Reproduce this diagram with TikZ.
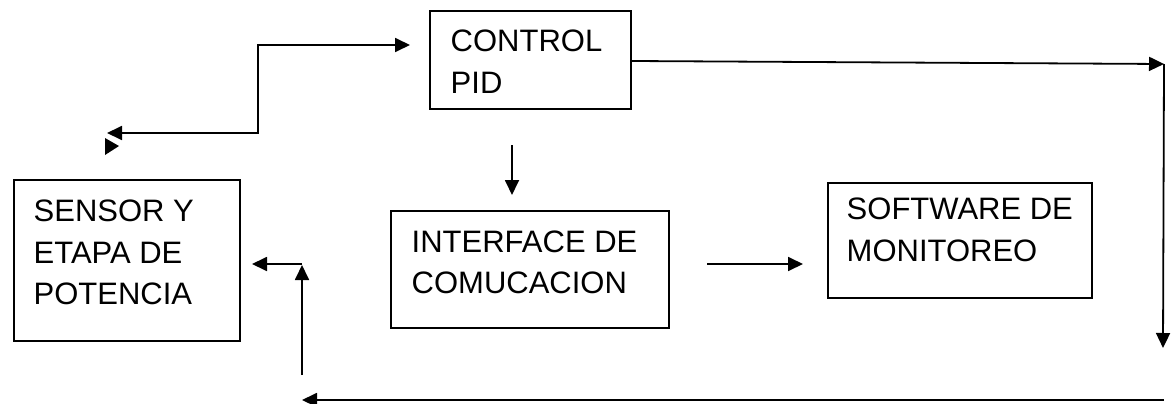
\documentclass[tikz,border=0pt]{standalone}
\usepackage{fontspec}
\setmainfont{Liberation Sans}
\usetikzlibrary{arrows.meta}
\begin{document}
\begin{tikzpicture}[x=1pt,y=-1pt,
  blockbox/.style={draw=black,line width=1.8pt,rectangle,inner sep=0pt,anchor=north west},
  blocktext/.style={anchor=north west,inner sep=0pt,align=left,font=\fontsize{31}{41.5}\selectfont},
  conn/.style={line width=1.8pt,-{Triangle[length=15pt,width=14pt]}},
  connb/.style={line width=1.8pt,{Triangle[length=15pt,width=14pt]}-{Triangle[length=15pt,width=14pt]}},
  plain/.style={line width=1.8pt}]
\useasboundingbox (0,0) rectangle (1175,404);
% boxes
\node[blockbox,minimum width=201pt,minimum height=98pt] (pid) at (429,10) {};
\node[blockbox,minimum width=226pt,minimum height=161pt] (sen) at (13,179) {};
\node[blockbox,minimum width=278pt,minimum height=117pt] (int) at (390,210) {};
\node[blockbox,minimum width=264pt,minimum height=115pt] (sw) at (827,182) {};
% texts
\node[blocktext] (tpid) at (450.5,30) {CONTROL\\PID};
\node[blocktext] (tsen) at (33.5,200) {SENSOR Y\\ETAPA DE\\POTENCIA};
\node[blocktext] (tint) at (411.5,230.5) {INTERFACE DE\\COMUCACION};
\node[blocktext] (tsw) at (846.5,198) {SOFTWARE DE\\MONITOREO};
% free ends
\coordinate (c1) at (107,133);
\coordinate (c2) at (258,133);
\coordinate (c3) at (410,45);
\coordinate (c4) at (1164,64);
\coordinate (c5) at (1163,348);
\coordinate (c6) at (512,145);
\coordinate (c7) at (512,195);
\coordinate (c8) at (707,264);
\coordinate (c9) at (803,264);
\coordinate (c10) at (1164,400);
\coordinate (c11) at (302,400);
\coordinate (c12) at (302,375);
\coordinate (c13) at (302,265);
\coordinate (c14) at (252,264);
% connectors
\draw[connb] (c1) -- (c2) |- (c3);
\fill (105,138) -- (119,146) -- (105,155) -- cycle;
\draw[conn] (pid.east |- 0,61) -- (c4);
\draw[conn] (c4) -- (c5);
\draw[conn] (c6) -- (c7);
\draw[conn] (c8) -- (c9);
\draw[conn] (c10) -- (c11);
\draw[conn] (c12) -- (c13);
\draw[conn] (c13 |- c14) -- (c14);
\end{tikzpicture}
\end{document}
